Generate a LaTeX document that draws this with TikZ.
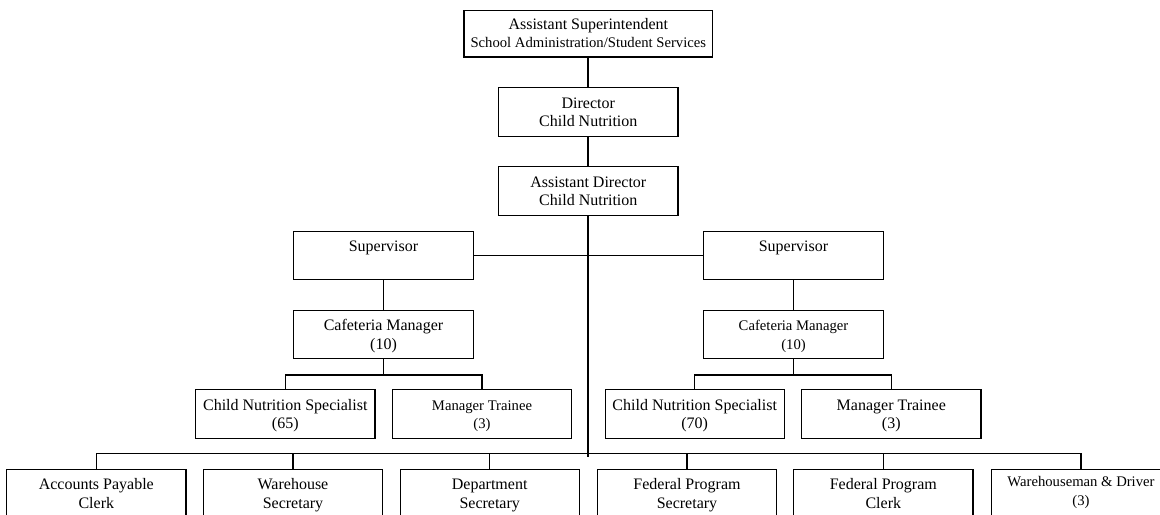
\documentclass[tikz,border=0pt]{standalone}
\usepackage{fontspec}
\setmainfont{Liberation Serif}
\usepackage{tikz}
\tikzstyle{box} = [rectangle, minimum width=134.5pt, minimum height=36.5pt, inner sep=1pt, align=center, text centered, text height=21.8pt, text depth=0pt, draw=black, line width=0.8pt, font=\fontsize{12}{13.6}\selectfont]
\tikzstyle{small_box} = [box, font=\fontsize{11}{13.6}\selectfont]
\tikzstyle{one_line} = [text height=8.2pt, text depth=13.6pt]
\tikzstyle{link} = [draw=black, line width=0.8pt]
\tikzstyle{main_link} = [draw=black, line width=1.6pt]

\begin{document}
\begin{tikzpicture}[x=0.75pt, y=-0.75pt]
\useasboundingbox (0,0) rectangle (1160,514);
\clip (0,0) rectangle (1160,514);

% top of the chain
\node (asup) [box, minimum width=186.5pt, minimum height=35.2pt, text height=20.7pt] at (588.3,33.5) {Assistant Superintendent\\\fontsize{11}{12.5}\selectfont School Administration/Student Services};
\node (dir) [box] at (588.3,112) {Director\\Child Nutrition};
\node (adir) [box] at (588.3,191) {Assistant Director\\Child Nutrition};

% supervisors and managers
\node (supL) [box, one_line] at (383.5,255.5) {Supervisor};
\node (supR) [box, one_line] at (793.5,255.5) {Supervisor};
\node (cafL) [box] at (383.5,334.5) {Cafeteria Manager\\(10)};
\node (cafR) [small_box] at (793.5,334.5) {Cafeteria Manager\\(10)};
\node (cnsL) [box] at (285.3,414.2) {Child Nutrition Specialist\\(65)};
\node (mtL) [small_box] at (482,414.2) {Manager Trainee\\(3)};
\node (cnsR) [box] at (694.7,414.2) {Child Nutrition Specialist\\(70)};
\node (mtR) [box] at (891.3,414.2) {Manager Trainee\\(3)};

% office staff
\node (acc) [box] at (96.3,493.5) {Accounts Payable\\Clerk};
\node (whs) [box] at (293,493.5) {Warehouse\\Secretary};
\node (dep) [box] at (489.7,493.5) {Department\\Secretary};
\node (fps) [box] at (687,493.5) {Federal Program\\Secretary};
\node (fpc) [box] at (883.3,493.5) {Federal Program\\Clerk};
\node (drv) [small_box, text depth=4.5pt] at (1081,493.5) {Warehouseman \& Driver\\(3)};

\coordinate (foot) at (588.3,456.5);
\coordinate (bus) at (588.3,453.5);
\coordinate (forkL) at (383.5,375);
\coordinate (forkR) at (793.5,375);

\draw [main_link] (asup) -- (dir);
\draw [main_link] (dir) -- (adir);
\draw [main_link] (adir) -- (foot);

\draw [link] (supL.east) -- (supR.west);
\draw [link] (supL) -- (cafL);
\draw [link] (supR) -- (cafR);
\draw [link] (cafL) -- (forkL) -| (cnsL.north);
\draw [link] (forkL) -| (mtL.north);
\draw [link] (cafR) -- (forkR) -| (cnsR.north);
\draw [link] (forkR) -| (mtR.north);

\foreach \n in {acc,whs,dep,fps,fpc,drv}
{
    \draw [link] (bus) -| (\n.north);
}
\end{tikzpicture}
\end{document}
